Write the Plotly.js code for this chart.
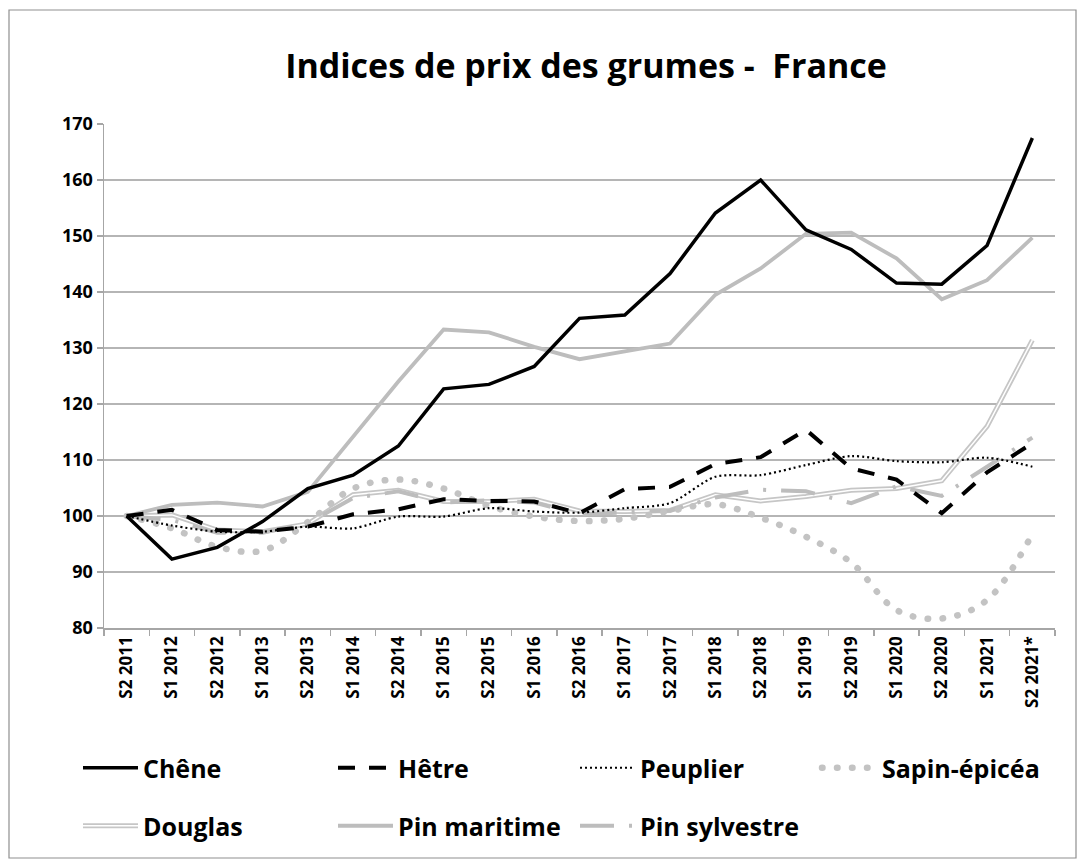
<!DOCTYPE html>
<html><head><meta charset="utf-8">
<script src="https://cdn.plot.ly/plotly-3.0.1.min.js"></script>
<style>
body{margin:0;background:#fff}
#chart{width:1085px;height:868px}
</style>
</head><body><div id="chart"></div>
<script>
const categories = ["S2 2011","S1 2012","S2 2012","S1 2013","S2 2013","S1 2014","S2 2014","S1 2015","S2 2015","S1 2016","S2 2016","S1 2017","S2 2017","S1 2018","S2 2018","S1 2019","S2 2019","S1 2020","S2 2020","S1 2021","S2 2021*"];
const chene        = [100, 92.3, 94.4, 99.0, 104.9, 107.3, 112.5, 122.7, 123.5, 126.7, 135.3, 135.9, 143.3, 154.1, 160.0, 151.1, 147.6, 141.6, 141.4, 148.3, 167.5];
const hetre        = [100, 101.1, 97.5, 97.2, 98.1, 100.3, 101.2, 103.0, 102.7, 102.6, 100.5, 104.8, 105.2, 109.3, 110.5, 115.4, 108.5, 106.5, 100.5, 107.8, 113.0];
const peuplier     = [100, 98.3, 97.2, 97.2, 98.1, 97.8, 99.9, 99.9, 101.4, 100.8, 100.6, 101.4, 102.3, 107.0, 107.3, 109.1, 110.7, 109.8, 109.6, 110.4, 108.8];
const sapinEpicea  = [100, 97.8, 94.5, 93.8, 98.9, 104.9, 106.5, 104.9, 101.8, 99.9, 99.1, 99.5, 100.9, 102.1, 99.7, 96.3, 91.7, 83.2, 81.7, 85.0, 96.8];
const douglas      = [100, 100.2, 97.5, 97.2, 98.6, 103.8, 104.6, 102.6, 102.6, 103.0, 100.9, 100.8, 101.0, 103.8, 102.7, 103.5, 104.6, 104.9, 106.3, 116.0, 131.4];
const pinMaritime  = [100, 102.0, 102.4, 101.7, 104.3, 114.1, 124.0, 133.3, 132.8, 130.2, 128.0, 129.4, 130.8, 139.5, 144.2, 150.4, 150.6, 146.0, 138.7, 142.1, 149.7];
const pinSylvestre = [100, 99.3, 97.0, 97.0, 98.7, 103.2, 104.4, 102.4, 102.8, 102.4, 100.3, 100.6, 101.0, 103.3, 104.7, 104.4, 102.3, 105.3, 103.6, 108.8, 114.0];

const FONT = '"Open Sans", "Liberation Sans", sans-serif';

function tr(name, y, line, extra) {
  return Object.assign({type:'scatter', mode:'lines', x:categories, y:y, name:name, line:line, hoverinfo:'skip'}, extra||{});
}
const data = [
  tr('Pin maritime', pinMaritime, {color:'#bdbdbd', width:3.8}, {legend:'legend2', legendrank:2, legendwidth:172}),
  tr('Douglas', douglas, {color:'#c6c6c6', width:5}, {legend:'legend2', legendrank:1, legendwidth:185}),
  tr('Douglas', douglas, {color:'#ffffff', width:1.5}, {showlegend:false}),
  tr('Pin sylvestre', pinSylvestre, {color:'#bdbdbd', width:4, dash:'34px,15px,3px,15px'}, {legend:'legend2', legendrank:3}),
  tr('Sapin-épicéa', sapinEpicea, {color:'#c3c3c3', width:6.5, dash:'0.5px,14.5px', shape:'spline', smoothing:1}, {legend:'legend3', legendrank:4}),
  tr('Peuplier', peuplier, {color:'#000000', width:2.2, dash:'2px,3px', shape:'spline', smoothing:0.8}, {legendrank:3}),
  tr('Hêtre', hetre, {color:'#000000', width:4, dash:'17px,14px'}, {legendrank:2, legendwidth:172}),
  tr('Chêne', chene, {color:'#000000', width:3.5}, {legendrank:1, legendwidth:185})
];

const legendBase = {
  orientation:'h', xref:'container', yref:'container', xanchor:'left', yanchor:'top',
  itemwidth:55, entrywidth:175, entrywidthmode:'pixels',
  font:{family:FONT, size:25, color:'#000', weight:'bold'},
  bgcolor:'rgba(0,0,0,0)', traceorder:'normal'
};

const layout = {
  width:1085, height:868,
  margin:{l:104, r:30, t:124, b:240},
  paper_bgcolor:'#ffffff', plot_bgcolor:'#ffffff',
  title:{text:'Indices de prix des grumes -  France', font:{family:FONT, size:34, color:'#000', weight:'bold'},
         x:586/1085, xref:'container', xanchor:'center', y:1-66/868, yref:'container', yanchor:'middle'},
  xaxis:{type:'category', tickson:'boundaries', ticks:'outside', ticklen:6, tickcolor:'#a6a6a6', tickwidth:1.5,
         showline:true, linecolor:'#a6a6a6', linewidth:1.5, tickangle:-90, showgrid:false,
         tickfont:{family:FONT, size:17, color:'#000', weight:'bold'}, range:[-0.5, 20.5], fixedrange:true},
  yaxis:{range:[80,170], tick0:80, dtick:10, ticks:'outside', ticklen:6, tickcolor:'#a6a6a6', tickwidth:1.5,
         showline:true, linecolor:'#a6a6a6', linewidth:1.5, gridcolor:'#b5b5b5', gridwidth:1.5, zeroline:false,
         tickfont:{family:FONT, size:18, color:'#000', weight:'bold'}, fixedrange:true},
  legend:Object.assign({}, legendBase, {x:78/1085, y:1-745/868}),
  legend3:Object.assign({}, legendBase, {x:817/1085, y:1-745/868, entrywidth:0}),
  legend2:Object.assign({}, legendBase, {x:78/1085, y:1-803/868}),
  shapes:[{type:'rect', xref:'paper', yref:'paper',
           x0:(9-104)/951, x1:(1076-104)/951, y0:(628-858)/504, y1:(628-10)/504,
           line:{color:'#8f8f8f', width:1.2}, layer:'below'}],
  showlegend:true
};

function restyleMarks(gd) {
  const tracesG = gd.querySelectorAll('.scatterlayer .trace');
  if (tracesG[4]) tracesG[4].querySelectorAll('path.js-line').forEach(p => p.style.strokeLinecap = 'round');
  gd.querySelectorAll('g.traces').forEach(t => {
    const txt = t.querySelector('text');
    if (!txt) return;
    const name = (txt.textContent || '').trim();
    const lines = t.querySelectorAll('path');
    if (name.indexOf('Sapin') === 0) {
      lines.forEach(p => { p.style.strokeLinecap = 'round'; p.setAttribute('stroke-linecap', 'round'); });
    }
    if (name === 'Douglas' && !t.getAttribute('data-double')) {
      t.setAttribute('data-double', '1');
      lines.forEach(p => {
        if (!p.getAttribute('d')) return;
        const c = p.cloneNode(true);
        c.style.stroke = '#ffffff';
        c.style.strokeWidth = '1.5px';
        p.parentNode.appendChild(c);
      });
    }
  });
}

Plotly.newPlot('chart', data, layout, {staticPlot:true}).then(function(gd){
  restyleMarks(gd);
  setTimeout(function(){ restyleMarks(gd); }, 200);
});
</script>
</body></html>
